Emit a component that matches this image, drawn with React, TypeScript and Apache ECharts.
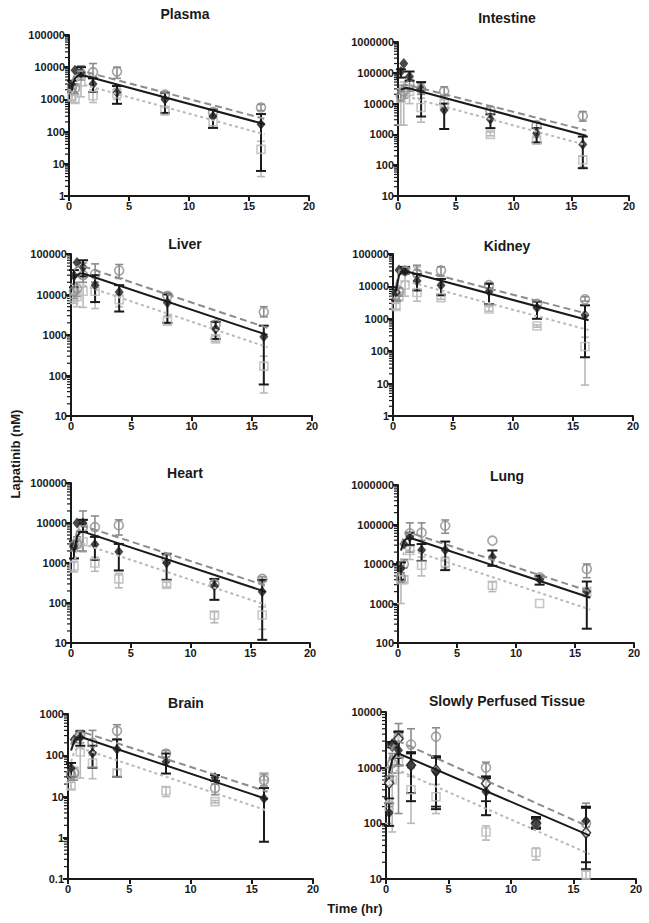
import React, { useEffect, useRef } from "react";
import * as echarts from "echarts";

// ---------- data ----------
const times = [0.25, 0.5, 1, 2, 4, 8, 12, 16];
const modelTimes = [0.25, 0.5, 0.75, 1, 16.3];
const panelNames = ["Plasma", "Intestine", "Liver", "Kidney", "Heart", "Lung", "Brain", "Slowly Perfused Tissue"];
const yMins = [1, 10, 10, 1, 10, 100, 0.1, 10];
const yMaxs = [100000, 1000000, 100000, 100000, 100000, 1000000, 1000, 10000];
const xTickMin = 0;
const xTickMax = 20;
const xTickStep = 5;

// [mean, low, high] per time point
const plasmaBlack = [[2750, 1700, 3800], [8000, 8000, 8000], [6700, 5000, 10000], [3000, 1700, 4500], [1650, 730, 2600], [1000, 380, 1600], [300, 130, 480], [170, 6, 350]];
const plasmaCircle = [[2300, 1500, 3000], [2200, 1500, 3000], [6500, 4000, 11000], [7000, 5000, 13000], [7300, 4500, 10000], [1400, 1100, 1700], [400, 300, 500], [560, 450, 700]];
const plasmaSquare = [[1300, 900, 2000], [1000, 800, 1500], [3500, 1200, 11000], [1300, 800, 2000], [1500, 1000, 2200], [450, 330, 600], [200, 150, 260], [28, 4, 50]];
const plasmaModel = [2500, 4500, 5500, 5800, 170];
const plasmaUpper = [3500, 6000, 7500, 7800, 250];
const plasmaLower = [1500, 2500, 2900, 3000, 82];

const intestineBlack = [[110000, 70000, 130000], [200000, 200000, 200000], [76000, 55000, 110000], [30000, 3800, 50000], [6200, 1500, 10000], [3100, 1600, 4500], [1100, 550, 1600], [470, 80, 850]];
const intestineCircle = [[18000, 12000, 25000], [25000, 15000, 40000], [40000, 25000, 60000], [30000, 20000, 45000], [25000, 18000, 35000], [6000, 4500, 8000], [2000, 1600, 2500], [4000, 2700, 5500]];
const intestineSquare = [[15000, 2000, 30000], [30000, 2000, 50000], [25000, 10000, 40000], [7500, 2500, 15000], [10000, 7000, 14000], [1000, 900, 1200], [650, 500, 800], [150, 90, 200]];
const intestineModel = [28000, 31000, 32000, 31000, 900];
const intestineUpper = [36000, 40000, 40000, 39000, 1350];
const intestineLower = [14000, 16000, 16500, 16000, 450];

const liverBlack = [[29000, 15000, 40000], [62000, 62000, 62000], [47000, 28000, 70000], [17000, 6500, 30000], [11500, 3800, 17000], [6300, 2000, 10000], [1400, 800, 2100], [900, 60, 1700]];
const liverCircle = [[12000, 8000, 18000], [14000, 9000, 20000], [30000, 20000, 60000], [32000, 20000, 57000], [39000, 25000, 55000], [9300, 7000, 11000], [1800, 1400, 2200], [3700, 2800, 5000]];
const liverSquare = [[8500, 6000, 10000], [9000, 5000, 12000], [12000, 4800, 25000], [12000, 4500, 20000], [7400, 5000, 10000], [2200, 1900, 3000], [800, 700, 950], [170, 37, 300]];
const liverModel = [25000, 30000, 33000, 33000, 1000];
const liverUpper = [40000, 48000, 50000, 50000, 1500];
const liverLower = [13000, 16000, 17000, 17000, 500];

const kidneyBlack = [[6500, 3700, 9500], [32000, 32000, 32000], [30000, 25000, 40000], [14700, 7500, 24000], [10800, 5400, 17000], [7000, 2800, 12000], [2200, 1000, 3400], [1300, 65, 2600]];
const kidneyCircle = [[5500, 4000, 7000], [7000, 5000, 9000], [30000, 25000, 36000], [25000, 20000, 45000], [31000, 21000, 40000], [11000, 9000, 13000], [2900, 2500, 3400], [4000, 3500, 4800]];
const kidneySquare = [[2400, 2000, 3000], [5000, 3500, 6500], [11000, 5000, 24000], [6500, 3500, 40000], [4500, 4000, 5000], [2000, 1700, 2400], [600, 550, 650], [140, 9, 270]];
const kidneyModel = [7000, 22000, 28000, 30000, 900];
const kidneyUpper = [10000, 30000, 38000, 40000, 1400];
const kidneyLower = [4000, 11000, 14000, 15000, 450];

const heartBlack = [[2570, 1300, 3500], [10000, 10000, 10000], [10000, 6000, 12000], [2900, 1200, 4500], [1900, 650, 3000], [1000, 380, 1700], [270, 120, 400], [190, 12, 380]];
const heartCircle = [[2700, 2000, 3500], [3000, 2000, 4500], [8000, 2000, 20000], [7900, 4800, 15000], [8800, 5000, 12000], [1300, 1000, 1600], [300, 250, 350], [400, 350, 450]];
const heartSquare = [[840, 600, 1100], [3000, 2000, 4000], [3400, 1900, 12000], [1000, 620, 1400], [400, 240, 550], [290, 250, 330], [50, 32, 60], [50, 22, 80]];
const heartModel = [1800, 4500, 5800, 6100, 190];
const heartUpper = [2500, 6200, 8000, 8500, 270];
const heartLower = [900, 2200, 2900, 3000, 90];

const lungBlack = [[7700, 4000, 11000], [32000, 32000, 32000], [48000, 30000, 62000], [22500, 12000, 32000], [22500, 7000, 37000], [15000, 9000, 22000], [4100, 3000, 5000], [2000, 230, 3600]];
const lungCircle = [[4500, 3500, 6000], [10000, 8000, 13000], [60000, 20000, 110000], [62000, 40000, 110000], [93000, 60000, 130000], [39000, 39000, 39000], [4600, 4000, 5200], [7500, 4500, 10000]];
const lungSquare = [[4000, 1000, 6000], [4000, 3500, 5000], [22000, 13000, 30000], [9300, 5000, 15000], [11000, 8000, 15000], [2900, 2000, 3500], [1000, 1000, 1000], [2000, 1500, 2500]];
const lungModel = [22000, 38000, 44000, 46000, 1400];
const lungUpper = [30000, 50000, 60000, 62000, 2000];
const lungLower = [12000, 19000, 22000, 23000, 700];

const brainBlack = [[49, 30, 65], [240, 240, 240], [275, 170, 380], [113, 50, 170], [140, 30, 240], [70, 36, 110], [29, 24, 33], [9, 0.8, 16]];
const brainCircle = [[35, 25, 45], [37, 25, 50], [300, 200, 400], [200, 120, 400], [390, 250, 550], [110, 90, 130], [16, 11, 20], [25, 18, 35]];
const brainSquare = [[18, 15, 22], [40, 30, 50], [120, 28, 350], [65, 27, 100], [37, 30, 45], [14, 10, 17], [7.5, 7, 8], [30, 25, 36]];
const brainModel = [130, 220, 260, 280, 8.5];
const brainUpper = [180, 300, 360, 380, 13];
const brainLower = [70, 120, 145, 150, 4.5];

const slowBlack = [[155, 90, 230], [2700, 2700, 2900], [2050, 1100, 4300], [1100, 250, 1900], [840, 180, 1600], [370, 140, 650], [103, 80, 130], [110, 20, 190]];
const slowOpenDiamond = [[530, 280, 700], [2500, 2300, 2900], [3300, 1500, 4500], [1100, 350, 1800], [900, 200, 1500], [520, 250, 700], [100, 85, 120], [68, 15, 200]];
const slowCircle = [[600, 200, 1000], [1200, 800, 1800], [3500, 150, 6200], [2600, 1000, 5000], [3600, 1600, 5200], [1000, 600, 1250], [100, 80, 130], [100, 15, 230]];
const slowSquare = [[200, 100, 250], [600, 70, 1500], [1300, 800, 1600], [400, 100, 700], [300, 150, 500], [70, 50, 90], [30, 22, 36], [12, 10, 14]];
const slowModel = [800, 1400, 1700, 1800, 60];
const slowUpper = [1300, 2300, 2800, 3000, 85];
const slowLower = [450, 750, 880, 900, 28];

// ---------- layout ----------
const gridRects = [
  [69, 35, 240, 161], [398, 42, 231, 154],
  [71, 254, 241, 162], [393, 254, 240, 162],
  [71, 483, 239, 160], [398, 485, 236, 158],
  [68, 714, 245, 165], [386, 712, 250, 167],
];
const titlePos = [[185, 14], [507, 18], [185, 244], [507, 246], [185, 473], [507, 476], [186, 703], [507, 701]];

const panels = [
  { black: plasmaBlack, circle: plasmaCircle, square: plasmaSquare, model: plasmaModel, upper: plasmaUpper, lower: plasmaLower },
  { black: intestineBlack, circle: intestineCircle, square: intestineSquare, model: intestineModel, upper: intestineUpper, lower: intestineLower },
  { black: liverBlack, circle: liverCircle, square: liverSquare, model: liverModel, upper: liverUpper, lower: liverLower },
  { black: kidneyBlack, circle: kidneyCircle, square: kidneySquare, model: kidneyModel, upper: kidneyUpper, lower: kidneyLower },
  { black: heartBlack, circle: heartCircle, square: heartSquare, model: heartModel, upper: heartUpper, lower: heartLower },
  { black: lungBlack, circle: lungCircle, square: lungSquare, model: lungModel, upper: lungUpper, lower: lungLower },
  { black: brainBlack, circle: brainCircle, square: brainSquare, model: brainModel, upper: brainUpper, lower: brainLower },
  { black: slowBlack, circle: slowCircle, square: slowSquare, model: slowModel, upper: slowUpper, lower: slowLower, open: slowOpenDiamond },
];

const FONT = '"Liberation Sans", Arial, Helvetica, sans-serif';
const BLACK = "#1a1a1a";
const MID = "#8c8c8c";
const LIGHT = "#b9b9b9";

function errRender(color: string, lw: number, cap: number) {
  return (params: any, api: any) => {
    const x = api.value(0);
    const lo = api.value(1);
    const hi = api.value(2);
    if (!(hi > lo)) return { type: "group", children: [] };
    const a = api.coord([x, lo]);
    const b = api.coord([x, hi]);
    const st = { stroke: color, lineWidth: lw };
    return {
      type: "group",
      children: [
        { type: "line", shape: { x1: a[0], y1: a[1], x2: b[0], y2: b[1] }, style: st },
        { type: "line", shape: { x1: a[0] - cap, y1: a[1], x2: a[0] + cap, y2: a[1] }, style: st },
        { type: "line", shape: { x1: b[0] - cap, y1: b[1], x2: b[0] + cap, y2: b[1] }, style: st },
      ],
    };
  };
}

function minorTicks(min: number, max: number) {
  const out: number[][] = [];
  for (let d = min; d < max; d *= 10) {
    for (let k = 2; k <= 9; k++) out.push([0, +(d * k).toPrecision(4)]);
  }
  return out;
}

function fmtLog(v: number) {
  if (v >= 1) return String(Math.round(v));
  return String(+v.toPrecision(2));
}

export default function App() {
  const ref = useRef<HTMLDivElement>(null);
  useEffect(() => {
    if (!ref.current) return;
    const chart = echarts.init(ref.current, null, { renderer: "svg" });
    const grids: any[] = [];
    const xAxes: any[] = [];
    const yAxes: any[] = [];
    const series: any[] = [];
    const graphics: any[] = [];

    panels.forEach((p: any, i) => {
      const [l, t, w, h] = gridRects[i];
      grids.push({ left: l, top: t, width: w, height: h, containLabel: false });
      xAxes.push({
        type: "value", gridIndex: i, min: xTickMin, max: xTickMax, interval: xTickStep,
        axisLine: { show: true, onZero: false, lineStyle: { color: BLACK, width: 2 } },
        axisTick: { show: true, inside: false, length: 5, lineStyle: { color: BLACK, width: 2 } },
        axisLabel: { color: BLACK, fontSize: 11, fontWeight: "bold", fontFamily: FONT, margin: 4 },
        splitLine: { show: false },
      });
      yAxes.push({
        type: "log", logBase: 10, gridIndex: i, min: yMins[i], max: yMaxs[i],
        axisLine: { show: true, onZero: false, lineStyle: { color: BLACK, width: 2 } },
        axisTick: { show: true, inside: false, length: 5, lineStyle: { color: BLACK, width: 2 } },
        axisLabel: { color: BLACK, fontSize: 11, fontWeight: "bold", fontFamily: FONT, margin: 4, formatter: fmtLog },
        splitLine: { show: false },
      });
      const ax = { xAxisIndex: i, yAxisIndex: i };
      series.push({
        type: "custom", ...ax, silent: true, clip: false,
        data: minorTicks(yMins[i], yMaxs[i]),
        renderItem: (params: any, api: any) => {
          const c = api.coord([0, api.value(1)]);
          return { type: "line", shape: { x1: c[0] - 4, y1: c[1], x2: c[0], y2: c[1] }, style: { stroke: BLACK, lineWidth: 1.2 } };
        },
      });
      const errSeries = (arr: number[][], color: string, lw: number, cap: number) => ({
        type: "custom", ...ax, clip: false, silent: true,
        encode: { x: 0, y: [1, 2] },
        data: times.map((tt, k) => [tt, arr[k][1], arr[k][2]]),
        renderItem: errRender(color, lw, cap),
      });
      const pts = (arr: number[][]) => times.map((tt, k) => [tt, arr[k][0]]);
      const modelLine = (vals: number[], color: string, type: any, width: number) => ({
        type: "line", ...ax, showSymbol: false, symbol: "none", silent: true,
        data: modelTimes.map((tt, k) => [tt, vals[k]]),
        lineStyle: { color, width, type },
      });
      // light squares
      series.push(errSeries(p.square, LIGHT, 1.6, 4));
      series.push({
        type: "scatter", ...ax, data: pts(p.square), symbol: "rect", symbolSize: 8,
        itemStyle: { color: "rgba(255,255,255,0)", borderColor: LIGHT, borderWidth: 1.6 },
      });
      // mid circles
      series.push(errSeries(p.circle, MID, 1.6, 4));
      series.push({
        type: "scatter", ...ax, data: pts(p.circle), symbol: "circle", symbolSize: 9,
        itemStyle: { color: "rgba(255,255,255,0)", borderColor: MID, borderWidth: 1.6 },
      });
      // model lines
      series.push(modelLine(p.lower, LIGHT, [3, 3], 2));
      series.push(modelLine(p.upper, MID, [7, 4], 2));
      series.push(modelLine(p.model, BLACK, "solid", 2));
      if (p.open) {
        series.push(errSeries(p.open, BLACK, 1.8, 5));
        series.push({
          type: "scatter", ...ax, data: pts(p.open), symbol: "diamond", symbolSize: [9, 11],
          itemStyle: { color: "#ffffff", borderColor: BLACK, borderWidth: 1.6 },
        });
      }
      // black diamonds
      series.push(errSeries(p.black, BLACK, 2, 5));
      series.push({
        type: "scatter", ...ax, data: pts(p.black), symbol: "diamond", symbolSize: [9, 11],
        itemStyle: { color: BLACK },
      });

      graphics.push({
        type: "text", x: titlePos[i][0], y: titlePos[i][1],
        style: {
          text: panelNames[i], font: `bold 14px ${FONT}`, fill: BLACK,
          align: "center", verticalAlign: "middle", textAlign: "center", textVerticalAlign: "middle",
        },
      });
    });

    graphics.push({
      type: "text", x: 15, y: 454, rotation: Math.PI / 2,
      style: {
        text: "Lapatinib (nM)", font: `bold 13px ${FONT}`, fill: BLACK,
        align: "center", verticalAlign: "middle", textAlign: "center", textVerticalAlign: "middle",
      },
    });
    graphics.push({
      type: "text", x: 355, y: 908,
      style: {
        text: "Time (hr)", font: `bold 13px ${FONT}`, fill: BLACK,
        align: "center", verticalAlign: "middle", textAlign: "center", textVerticalAlign: "middle",
      },
    });

    chart.setOption({
      animation: false,
      backgroundColor: "#ffffff",
      grid: grids,
      xAxis: xAxes,
      yAxis: yAxes,
      series,
      graphic: graphics,
    });
    return () => chart.dispose();
  }, []);
  return <div ref={ref} style={{ position: "fixed", left: 0, top: 0, width: 649, height: 923 }} />;
}
